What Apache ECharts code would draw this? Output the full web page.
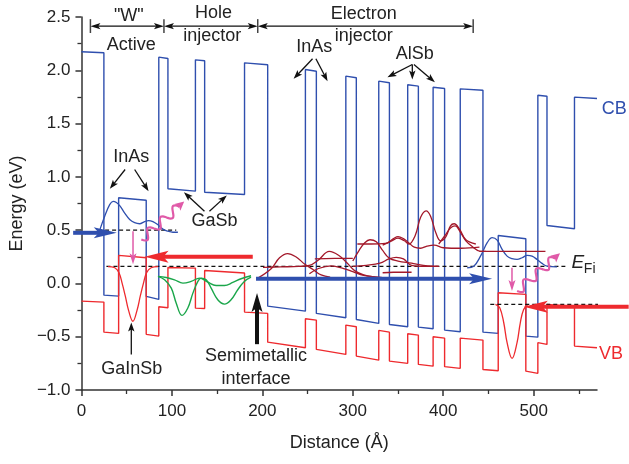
<!DOCTYPE html>
<html><head><meta charset="utf-8">
<script src="https://cdn.jsdelivr.net/npm/echarts@6/dist/echarts.min.js"></script>
<style>html,body{margin:0;padding:0;background:#fff}#c{width:629px;height:464px}</style>
</head><body><div id="c"></div>
<script>
// ---- band profile: layer boundaries (Å) and band edges (eV) at start/end of each layer
const layerX = [0, 24.8, 41.1, 71.6, 85.5, 95.6, 126, 136.2, 180.3, 205.9, 247.6, 259.7, 292.3, 303.9, 328.7, 340.5, 360.7, 372.5, 388.8, 401.5, 418.8, 443.9, 460.8, 491.3, 504.6, 514.7, 545.1, 570];
const cbStart = [2.174,-0.110,0.804,-0.122,2.123,0.888,2.098,0.856,2.070,-0.213,2.007,-0.281,1.945,-0.338,1.898,-0.385,1.864,-0.410,1.841,-0.438,1.826,-0.457,0.450,-0.494,1.766,0.544,1.748];
const cbEnd   = [2.164,-0.119,0.781,-0.150,2.111,0.866,2.089,0.835,2.052,-0.260,1.991,-0.322,1.930,-0.375,1.883,-0.406,1.851,-0.425,1.829,-0.453,1.813,-0.469,0.419,-0.504,1.757,0.513,1.735];
const vbStart = [-0.166,-0.457,0.263,-0.478,-0.219,0.150,-0.232,0.122,-0.269,-0.551,-0.331,-0.619,-0.391,-0.682,-0.441,-0.729,-0.472,-0.760,-0.500,-0.781,-0.513,-0.807,-0.087,-0.823,-0.556,-0.197,-0.588];
const vbEnd   = [-0.175,-0.469,0.241,-0.494,-0.228,0.144,-0.235,0.098,-0.281,-0.603,-0.344,-0.666,-0.406,-0.720,-0.457,-0.750,-0.485,-0.776,-0.513,-0.797,-0.532,-0.819,-0.103,-0.844,-0.572,-0.216,-0.603];

// ---- ticks
const xTickVals = [0,100,200,300,400,500];
const xMinorVals = [50,150,250,350,450,550];

// ---- wavefunctions
const elecWf1 = [[20.2,0.50],[25.7,0.63],[31.2,0.74],[35,0.77],[38.6,0.76],[42.3,0.73],[47.8,0.66],[53.3,0.60],[58.8,0.57],[64.3,0.56],[69.8,0.58],[74.2,0.59],[79,0.58],[84.5,0.55],[90,0.51],[95.6,0.49],[101,0.48],[106.6,0.48]];
const elecWf2 = [[426.5,0.147],[433.8,0.162],[441.2,0.256],[448.6,0.382],[454.1,0.429],[459.6,0.406],[465.1,0.319],[470.6,0.256],[476.1,0.232],[481.6,0.225],[487.2,0.241],[492.7,0.263],[498.2,0.256],[503.7,0.225],[509.2,0.188],[514.7,0.163],[525.7,0.156]];
const holeWf1 = [[29.4,0.157],[36.8,0.147],[41.5,0.10],[45,0.0],[48.5,-0.12],[52,-0.25],[56.9,-0.355],[61.5,-0.25],[65,-0.12],[68.5,0.0],[72,0.10],[77,0.147],[84.6,0.157]];
const holeWf2 = [[457.7,-0.197],[462.5,-0.228],[466.9,-0.369],[470.6,-0.556],[476.1,-0.704],[481.6,-0.556],[485.2,-0.369],[488.9,-0.244],[493.3,-0.206]];
const injHoleA = [[84.6,0.066],[91.9,0.034],[99.3,-0.044],[104.8,-0.185],[111.1,-0.30],[117.6,-0.23],[123.2,-0.091],[128.7,0.019],[132.3,0.05],[137.9,0.034],[143.4,-0.044],[150.7,-0.153],[158.1,-0.194],[165.4,-0.153],[172.8,-0.059],[180.1,0.019],[187.5,0.059]];
const injHoleB = [[84.6,0.066],[93.7,0.056],[102.9,0.034],[112.2,0.003],[121.3,0.019],[130.5,0.05],[139.7,0.012],[148.9,-0.019],[158.1,-0.019],[167.3,0.009],[176.5,0.044],[187.5,0.072]];
const state1 = [[195,0.05],[210,0.14],[219,0.24],[228,0.28],[237,0.25],[247,0.18],[256,0.13],[265,0.08],[275,0.06]];
const state2 = [[200.7,0.15],[220,0.155],[240,0.16],[252,0.17],[262,0.22],[274,0.30],[285,0.26],[294,0.19],[302,0.12],[312,0.08],[325,0.06],[333,0.055]];
const state3 = [[252,0.09],[262,0.14],[276,0.165],[290,0.14],[300,0.11],[312,0.075],[333,0.055]];
const state4 = [[258,0.23],[280,0.235],[300,0.235]];
const state5 = [[300,0.21],[307,0.31],[313,0.38],[319,0.41],[326,0.39],[333,0.31],[340,0.24],[350,0.21],[365,0.19],[378,0.17],[395,0.16]];
const state6 = [[305,0.37],[320,0.37],[336,0.375],[345,0.42],[350,0.44],[356,0.42],[362,0.38],[368,0.34],[375,0.33],[382,0.35],[390,0.36],[400,0.335],[420,0.33],[440,0.34]];
const state7 = [[333,0.36],[343,0.40],[350,0.425],[357,0.40],[362,0.37],[369,0.45],[375,0.62],[381,0.68],[386,0.63],[392,0.47],[397,0.40],[403,0.44],[408,0.54],[412,0.56],[418,0.51],[425,0.41],[436,0.37]];
const state8 = [[395,0.37],[402,0.45],[408,0.52],[413,0.54],[419,0.48],[425,0.40],[433,0.34],[441,0.30],[447,0.30]];
const state9 = [[300,0.16],[315,0.17],[330,0.19],[340,0.23],[348,0.245],[356,0.23],[365,0.17],[380,0.16],[395,0.16]];
const state10 = [[333,0.10],[345,0.105],[365,0.105]];
const state11 = [[440,0.30],[470,0.30],[513,0.30]];

// ---- dashed quasi-Fermi levels
const fermi1 = [[18.4,0.50],[104.8,0.50]];
const fermi2 = [[27.6,0.16],[535,0.16]];
const fermi3 = [[452,-0.197],[584.5,-0.197]];

// ---- photon squiggles (points read along the wavy arrows)
const photon1 = [[66.17,0.413],[70.24,0.403],[72.96,0.406],[73.74,0.429],[73.17,0.464],[72.6,0.500],[73.38,0.522],[76.08,0.526],[80.14,0.516],[84.21,0.506],[86.91,0.509],[87.7,0.532],[87.13,0.567],[86.56,0.603],[87.35,0.625],[90.05,0.629],[94.1,0.619],[98.18,0.609],[100.88,0.612],[101.67,0.635],[101.1,0.670],[100.53,0.706],[101.31,0.728],[104.03,0.732],[108.08,0.722]];
const photon2 = [[481.67,-0.072],[485.74,-0.082],[488.46,-0.079],[489.24,-0.056],[488.67,-0.021],[488.1,0.015],[488.88,0.037],[491.58,0.041],[495.64,0.031],[499.71,0.021],[502.41,0.024],[503.2,0.047],[502.63,0.082],[502.06,0.118],[502.85,0.140],[505.55,0.144],[509.6,0.134],[513.68,0.124],[516.38,0.127],[517.17,0.150],[516.6,0.185],[516.03,0.221],[516.81,0.243],[519.53,0.247],[523.58,0.237]];

// ---- arrows [x1,y1,x2,y2]
const blueArrows = [[-9.2,0.475,39,0.475],[193,0.044,454,0.044]];
const redArrows = [[189.4,0.25,69.8,0.25],[605,-0.22,489,-0.22]];
const pinkArrows = [[57,0.49,57,0.18],[476,0.147,476,-0.072]];
const photonHeads = [[106.5,0.717,113.6,0.769],[522,0.232,529.1,0.284]];
const interfaceArrow = [[194.1,-0.57,194.1,-0.09]];
const pointerArrows = [[48.3,1.069,31.4,0.888],[58.8,1.069,74.2,0.866],[136,0.678,113.3,0.856],[141.5,0.678,160.7,0.826],[255.5,2.108,234.6,1.920],[259.2,2.108,272.1,1.898],[365.8,2.054,338.3,1.935],[365.8,2.054,365.8,1.914],[367.6,2.054,390.8,1.888],[55.1,-0.666,55.1,-0.366]];
const bracketArrows = [[9.9,2.414,91.2,2.414],[91.2,2.414,194.9,2.414],[194.9,2.414,433.1,2.414]];
const bracketTicks = [[9.9,2.35,9.9,2.48],[91.2,2.35,91.2,2.48],[194.9,2.35,194.9,2.48],[433.1,2.35,433.1,2.48]];

// ---- text annotations
const labelText = ['"W"','Active','Hole','injector','Electron','injector','InAs','GaSb','InAs','AlSb','GaInSb','Semimetallic','interface'];
const labelPos = [[52.4,2.509],[55.1,2.233],[146.1,2.537],[144.5,2.317],[312.1,2.528],[312.1,2.322],[55.1,1.187],[147,0.586],[257.5,2.219],[368.4,2.153],[55.7,-0.807],[193,-0.685],[193,-0.90]];
const cbLabelPos = [[589,1.632]];
const vbLabelPos = [[585.6,-0.666]];
const efLabelPos = [[548.7,0.190],[561.9,0.131]];

const FONT = '"Liberation Sans", Arial, Helvetica, sans-serif';
const BLUE = '#2f4fae', RED = '#ee2a2e', DRED = '#a3182a', GREEN = '#1aa64a', PINK = '#e05aa8', INK = '#222';

function bandData(start, end) {
  const d = [];
  for (let i = 0; i < start.length; i++) {
    d.push([layerX[i], start[i]]);
    d.push([layerX[i + 1], end[i]]);
  }
  return d;
}

function lineS(data, color, width, extra) {
  return Object.assign({
    type: 'line', data: data, showSymbol: false, symbol: 'none', clip: false,
    lineStyle: { color: color, width: width }, silent: true, z: 3
  }, extra || {});
}

function makeArrow(color, width, headL, headW, both) {
  return function (params, api) {
    const a = api.coord([api.value(0), api.value(1)]);
    const b = api.coord([api.value(2), api.value(3)]);
    const dx = b[0] - a[0], dy = b[1] - a[1];
    const len = Math.hypot(dx, dy) || 1;
    const ux = dx / len, uy = dy / len, nx = -uy, ny = ux;
    const children = [];
    let s = a, e = b;
    if (headL > 0) {
      e = [b[0] - ux * headL * 0.7, b[1] - uy * headL * 0.7];
      if (both) s = [a[0] + ux * headL * 0.7, a[1] + uy * headL * 0.7];
    }
    children.push({ type: 'line', shape: { x1: s[0], y1: s[1], x2: e[0], y2: e[1] }, style: { stroke: color, lineWidth: width } });
    const head = function (tip, sx, sy) {
      const bx = tip[0] - sx * headL, by = tip[1] - sy * headL;
      const cx = tip[0] - sx * headL * 0.78, cy = tip[1] - sy * headL * 0.78;
      return { type: 'polygon', shape: { points: [[tip[0], tip[1]], [bx + nx * headW, by + ny * headW], [cx, cy], [bx - nx * headW, by - ny * headW]] }, style: { fill: color } };
    };
    if (headL > 0) {
      children.push(head(b, ux, uy));
      if (both) children.push(head(a, -ux, -uy));
    }
    return { type: 'group', children: children };
  };
}

function arrowS(data, color, width, headL, headW, both) {
  return {
    type: 'custom', coordinateSystem: 'cartesian2d', clip: false, silent: true, z: 5,
    data: data, encode: { x: [0, 2], y: [1, 3] },
    renderItem: makeArrow(color, width, headL, headW, both)
  };
}

function textS(pos, texts, color, fontSize, italic) {
  return {
    type: 'custom', coordinateSystem: 'cartesian2d', clip: false, silent: true, z: 6,
    data: pos, encode: { x: 0, y: 1 },
    renderItem: function (params, api) {
      const p = api.coord([api.value(0), api.value(1)]);
      const fs = Array.isArray(fontSize) ? fontSize[params.dataIndex] : fontSize;
      const it = Array.isArray(italic) ? italic[params.dataIndex] : italic;
      return { type: 'text', x: p[0], y: p[1], style: {
        text: texts[params.dataIndex], fill: color,
        font: (it ? 'italic ' : '') + fs + 'px ' + FONT,
        align: 'center', verticalAlign: 'middle' } };
    }
  };
}

const axisColor = '#333';
const chart = echarts.init(document.getElementById('c'), null, { renderer: 'canvas' });
chart.setOption({
  animation: false,
  backgroundColor: '#fff',
  grid: { left: 80, right: 32, top: 17, bottom: 74, containLabel: false },
  xAxis: [{
    type: 'value', min: 0, max: 570, interval: 100,
    axisLine: { show: true, onZero: false, lineStyle: { color: axisColor, width: 1.5 } },
    axisTick: { show: true, length: 6, customValues: xTickVals, lineStyle: { color: axisColor, width: 1.5 } },
    axisLabel: { customValues: xTickVals, formatter: function (v) { return String(v); }, margin: 13, fontSize: 17, color: INK, fontFamily: FONT },
    splitLine: { show: false },
    name: 'Distance (Å)', nameLocation: 'middle', nameGap: 44,
    nameTextStyle: { fontSize: 18, color: INK, fontFamily: FONT }
  }, {
    type: 'value', min: 0, max: 570, position: 'bottom',
    axisLine: { show: false, onZero: false },
    axisTick: { show: true, length: 4, customValues: xMinorVals, lineStyle: { color: axisColor, width: 1.3 } },
    axisLabel: { show: false }, splitLine: { show: false }
  }],
  yAxis: {
    type: 'value', min: -1, max: 2.5, interval: 0.5,
    axisLine: { show: true, onZero: false, lineStyle: { color: axisColor, width: 1.5 } },
    axisTick: { show: true, length: 6, lineStyle: { color: axisColor, width: 1.5 } },
    minorTick: { show: true, splitNumber: 2, length: 4, lineStyle: { color: axisColor, width: 1.3 } },
    axisLabel: { formatter: function (v) { return v.toFixed(1).replace('-', '\u2212'); }, margin: 11, fontSize: 17, color: INK, fontFamily: FONT },
    splitLine: { show: false },
    name: 'Energy (eV)', nameLocation: 'middle', nameGap: 52,
    nameTextStyle: { fontSize: 18, color: INK, fontFamily: FONT }
  },
  series: [
    lineS(bandData(cbStart, cbEnd), BLUE, 1.4),
    lineS(bandData(vbStart, vbEnd), RED, 1.4),
    lineS(fermi1, '#111', 1.2, { lineStyle: { color: '#111', width: 1.2, type: [4, 3] } }),
    lineS(fermi2, '#111', 1.2, { lineStyle: { color: '#111', width: 1.2, type: [4, 3] } }),
    lineS(fermi3, '#111', 1.2, { lineStyle: { color: '#111', width: 1.2, type: [4, 3] } }),
    lineS(elecWf1, BLUE, 1.3, { smooth: 0.4 }),
    lineS(elecWf2, BLUE, 1.3, { smooth: 0.4 }),
    lineS(holeWf1, RED, 1.3, { smooth: 0.4 }),
    lineS(holeWf2, RED, 1.3, { smooth: 0.4 }),
    lineS(injHoleA, GREEN, 1.4, { smooth: 0.4 }),
    lineS(injHoleB, GREEN, 1.4, { smooth: 0.4 }),
    lineS(state1, DRED, 1.3, { smooth: 0.4 }),
    lineS(state2, DRED, 1.3, { smooth: 0.4 }),
    lineS(state3, DRED, 1.3, { smooth: 0.4 }),
    lineS(state4, DRED, 1.3, { smooth: 0.4 }),
    lineS(state5, DRED, 1.3, { smooth: 0.4 }),
    lineS(state6, DRED, 1.3, { smooth: 0.4 }),
    lineS(state7, DRED, 1.3, { smooth: 0.4 }),
    lineS(state8, DRED, 1.3, { smooth: 0.4 }),
    lineS(state9, DRED, 1.3, { smooth: 0.4 }),
    lineS(state10, DRED, 1.3, { smooth: 0.4 }),
    lineS(state11, DRED, 1.3, { smooth: 0.4 }),
    lineS(photon1, PINK, 2.2, { smooth: 0.3, z: 4 }),
    lineS(photon2, PINK, 2.2, { smooth: 0.3, z: 4 }),
    arrowS(photonHeads, PINK, 2.2, 9, 4.5, false),
    arrowS(pinkArrows, PINK, 1.5, 11, 3.5, false),
    arrowS(blueArrows, BLUE, 4, 23, 5.5, false),
    arrowS(redArrows, RED, 4, 24, 6, false),
    arrowS(interfaceArrow, '#111', 4, 19, 5.5, false),
    arrowS(pointerArrows, '#111', 1.3, 9, 3.2, false),
    arrowS(bracketArrows, '#111', 1.3, 10, 3.2, true),
    arrowS(bracketTicks, '#444', 1.5, 0, 0, false),
    textS(labelPos, labelText, INK, 18, false),
    textS(cbLabelPos, ['CB'], BLUE, 18, false),
    textS(vbLabelPos, ['VB'], RED, 18, false),
    textS(efLabelPos, ['E', 'Fi'], INK, [19, 14], [true, false])
  ]
});
</script>
</body></html>
